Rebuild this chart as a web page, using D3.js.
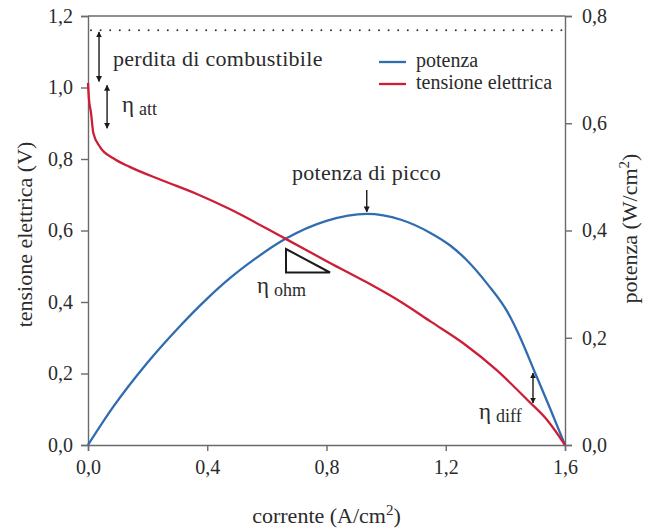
<!DOCTYPE html>
<html>
<head>
<meta charset="utf-8">
<script src="https://cdn.jsdelivr.net/npm/d3@7"></script>
<style>
  body { margin: 0; background: #fff; }
</style>
</head>
<body>
<div id="chart"></div>
<script>
// tensione elettrica (V) vs corrente (A/cm2)
const voltCurrent = [0, 0.003, 0.01, 0.018, 0.04, 0.085, 0.14, 0.25, 0.365, 0.47, 0.66, 0.81, 0.935, 1.05, 1.15, 1.26, 1.37, 1.48, 1.54, 1.6];
const voltValues = [1.013, 0.97, 0.93, 0.872, 0.834, 0.802, 0.778, 0.74, 0.702, 0.662, 0.578, 0.51, 0.455, 0.40, 0.345, 0.284, 0.21, 0.121, 0.07, 0];

// potenza (W/cm2) vs corrente (A/cm2)
const powerCurrent = [0, 0.085, 0.197, 0.309, 0.398, 0.476, 0.56, 0.661, 0.8, 0.935, 1.05, 1.15, 1.215, 1.27, 1.34, 1.405, 1.45, 1.494, 1.55, 1.6];
const powerValues = [0, 0.0714, 0.152, 0.222, 0.272, 0.311, 0.347, 0.384, 0.418, 0.431, 0.42, 0.395, 0.372, 0.345, 0.30, 0.25, 0.20, 0.142, 0.068, 0];

const xTicks = [0, 0.4, 0.8, 1.2, 1.6];
const voltTicks = [0, 0.2, 0.4, 0.6, 0.8, 1.0, 1.2];
const powerTicks = [0, 0.2, 0.4, 0.6, 0.8];

const legendLabels = ['potenza', 'tensione elettrica'];
const lossLevel = 1.16;   // linea tratteggiata (tensione teorica)
const peakCurrent = 0.935;

const blue = '#2f6cb0';
const red = '#cc1e36';
const axisColor = '#6a6a6a';
const serif = '"Liberation Serif", "Times New Roman", serif';

const width = 647, height = 530;
const margin = { top: 16, right: 82, bottom: 85, left: 88 };

const svg = d3.select('#chart').append('svg')
  .attr('width', width)
  .attr('height', height)
  .style('font-family', serif);

const x = d3.scaleLinear().domain([0, 1.6]).range([margin.left, width - margin.right]);
const yV = d3.scaleLinear().domain([0, 1.2]).range([height - margin.bottom, margin.top]);
const yP = d3.scaleLinear().domain([0, 0.8]).range([height - margin.bottom, margin.top]);

const fmt = d => d3.format('.1f')(d).replace('.', ',');

function label(xp, yp, size) {
  return svg.append('text')
    .attr('x', xp).attr('y', yp)
    .attr('font-size', size)
    .attr('fill', '#2b2b2b')
    .style('font-family', serif);
}

// arrow heads
const defs = svg.append('defs');
defs.append('marker')
  .attr('id', 'head')
  .attr('viewBox', '0 0 10 10')
  .attr('refX', 9).attr('refY', 5)
  .attr('markerWidth', 6).attr('markerHeight', 9)
  .attr('markerUnits', 'userSpaceOnUse')
  .attr('orient', 'auto-start-reverse')
  .append('path')
  .attr('d', 'M0,0 L10,5 L0,10 Z')
  .attr('fill', '#1a1a1a');

// axes
const xAxis = svg.append('g')
  .attr('transform', `translate(0,${height - margin.bottom})`)
  .call(d3.axisBottom(x).tickValues(xTicks).tickFormat(fmt).tickSizeOuter(0).tickSize(6).tickPadding(9));

const yAxisL = svg.append('g')
  .attr('transform', `translate(${margin.left},0)`)
  .call(d3.axisLeft(yV).tickValues(voltTicks).tickFormat(fmt).tickSizeOuter(0).tickSize(7).tickPadding(8));

const yAxisR = svg.append('g')
  .attr('transform', `translate(${width - margin.right},0)`)
  .call(d3.axisRight(yP).tickValues(powerTicks).tickFormat(fmt).tickSizeOuter(0).tickSize(7).tickPadding(10));

[xAxis, yAxisL, yAxisR].forEach(g => {
  g.attr('font-family', null);
  g.select('.domain').attr('stroke', axisColor).attr('stroke-width', 1.4);
  g.selectAll('.tick line').attr('stroke', axisColor).attr('stroke-width', 1.4);
  g.selectAll('.tick text').attr('font-size', 20).attr('fill', '#2b2b2b')
    .style('font-family', serif);
});

// top frame line
svg.append('line')
  .attr('x1', x(0)).attr('x2', x(1.6))
  .attr('y1', yV(1.2)).attr('y2', yV(1.2))
  .attr('stroke', axisColor).attr('stroke-width', 1.4);

// dotted line
svg.append('line')
  .attr('x1', x(0.01)).attr('x2', x(1.6))
  .attr('y1', yV(lossLevel)).attr('y2', yV(lossLevel))
  .attr('stroke', '#333').attr('stroke-width', 2)
  .attr('stroke-linecap', 'round')
  .attr('stroke-dasharray', '0,9.6');

// curves
const voltLine = d3.line()
  .x((d, i) => x(voltCurrent[i]))
  .y(d => yV(d))
  .curve(d3.curveMonotoneX);

const powerLine = d3.line()
  .x((d, i) => x(powerCurrent[i]))
  .y(d => yP(d))
  .curve(d3.curveMonotoneX);

svg.append('path')
  .datum(powerValues)
  .attr('d', powerLine)
  .attr('fill', 'none')
  .attr('stroke', blue)
  .attr('stroke-width', 2.3);

svg.append('path')
  .datum(voltValues)
  .attr('d', voltLine)
  .attr('fill', 'none')
  .attr('stroke', red)
  .attr('stroke-width', 2.3);

// legend
[blue, red].forEach((c, i) => {
  const ly = 62 + i * 22;
  svg.append('line')
    .attr('x1', 379).attr('x2', 406)
    .attr('y1', ly).attr('y2', ly)
    .attr('stroke', c).attr('stroke-width', 2.3);
  label(416, ly + 5, 20).text(legendLabels[i]);
});

// annotations
function dblArrow(xp, y1, y2) {
  svg.append('line')
    .attr('x1', xp).attr('x2', xp)
    .attr('y1', y1).attr('y2', y2)
    .attr('stroke', '#1a1a1a').attr('stroke-width', 1.4)
    .attr('marker-start', 'url(#head)')
    .attr('marker-end', 'url(#head)');
}
function arrowDown(xp, y1, y2) {
  svg.append('line')
    .attr('x1', xp).attr('x2', xp)
    .attr('y1', y1).attr('y2', y2)
    .attr('stroke', '#1a1a1a').attr('stroke-width', 1.4)
    .attr('marker-end', 'url(#head)');
}
function eta(xp, yp, sub) {
  const t = label(xp, yp, 23);
  t.append('tspan').text('η');
  t.append('tspan').attr('dx', 5).attr('dy', 3).attr('font-size', 18).text(sub);
}

dblArrow(x(0.037), yV(1.155), yV(1.017));
label(113, 66, 22).attr('letter-spacing', 0.3).text('perdita di combustibile');

dblArrow(x(0.064), yV(1.006), yV(0.886));
eta(122, 112, 'att');

label(292, 180, 22).attr('letter-spacing', 0.3).text('potenza di picco');
arrowDown(x(peakCurrent), 190, yP(0.431) - 2);

svg.append('path')
  .attr('d', 'M286,249 L286,272.5 L330,272.5 Z')
  .attr('fill', 'none')
  .attr('stroke', '#1a1a1a')
  .attr('stroke-width', 2)
  .attr('stroke-linejoin', 'miter');
eta(257, 293, 'ohm');

dblArrow(533, 373, 403);
eta(479, 419, 'diff');

// axis titles
const xt = label(x(0.8), 523, 22).attr('text-anchor', 'middle');
xt.append('tspan').text('corrente (A/cm');
xt.append('tspan').attr('dy', -8).attr('font-size', 15).text('2');
xt.append('tspan').attr('dy', 8).text(')');

label(0, 0, 22)
  .attr('transform', `translate(32,${yV(0.6) + 4}) rotate(-90)`)
  .attr('text-anchor', 'middle')
  .text('tensione elettrica (V)');

const rt = label(0, 0, 22)
  .attr('transform', `translate(637,${yV(0.6) - 2}) rotate(-90)`)
  .attr('text-anchor', 'middle');
rt.append('tspan').text('potenza (W/cm');
rt.append('tspan').attr('dy', -8).attr('font-size', 15).text('2');
rt.append('tspan').attr('dy', 8).text(')');
</script>
</body>
</html>
